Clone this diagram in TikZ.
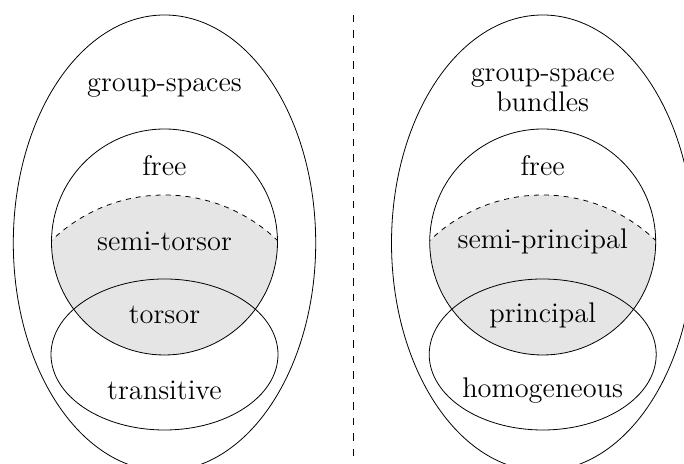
\documentclass[tikz,border=0pt]{standalone}
\usetikzlibrary{positioning}

\begin{document}
\begin{tikzpicture}[x=0.5pt, y=0.5pt,
        setname/.style={font=\fontsize{14.2}{15}\selectfont, anchor=base, align=center, inner sep=0pt},
        boundary/.style={draw=black, line width=0.4pt},
        cut/.style={draw=black, line width=0.4pt, dash pattern=on 2.5pt off 2.5pt},
        divider/.style={draw=black, line width=0.4pt, dash pattern=on 3.75pt off 4pt}]
    \clip (0,0) rectangle (684,464);

    % Left panel: group-spaces
    \begin{scope}
        \clip (164.5,106) circle[radius=163];
        \fill[black!10] (164.5,222) circle[radius=113];
    \end{scope}
    \begin{scope}
        \clip (164.5,222) circle[radius=113];
        \draw[cut] (164.5,106) circle[radius=163];
    \end{scope}
    \draw[boundary] (164.5,222) circle[radius=113];
    \draw[boundary] (164.5,109.5) ellipse[x radius=113.5, y radius=75.5];
    \draw[boundary] (164.5,221) ellipse[x radius=151.2, y radius=228];

    \node[setname] (gs)    at (164.5,372) {group-spaces};
    \node[setname] (freel) at (164.5,288) {free};
    \node[setname] (semil) at (164.5,213) {semi-torsor};
    \node[setname] (tor)   at (164.5,140) {torsor};
    \node[setname] (trans) at (164.5,64)  {transitive};

    % Right panel: group-space bundles
    \begin{scope}
        \clip (542.7,106) circle[radius=163];
        \fill[black!10] (542.7,222) circle[radius=113];
    \end{scope}
    \begin{scope}
        \clip (542.7,222) circle[radius=113];
        \draw[cut] (542.7,106) circle[radius=163];
    \end{scope}
    \draw[boundary] (542.7,222) circle[radius=113];
    \draw[boundary] (542.7,109.5) ellipse[x radius=113.5, y radius=75.5];
    \draw[boundary] (542.7,221) ellipse[x radius=151.2, y radius=228];

    \node[setname] (gsb)   at (542.7,352) {group-space\\bundles};
    \node[setname] (freer) at (542.7,288) {free};
    \node[setname] (semir) at (542.7,215) {semi-principal};
    \node[setname] (princ) at (542.7,141) {principal};
    \node[setname] (homog) at (542.7,66)  {homogeneous};

    % Dashed separator
    \coordinate (divtop) at (353.3,449);
    \coordinate (divbot) at (353.3,0);
    \draw[divider] (divtop) -- (divbot);
\end{tikzpicture}
\end{document}
